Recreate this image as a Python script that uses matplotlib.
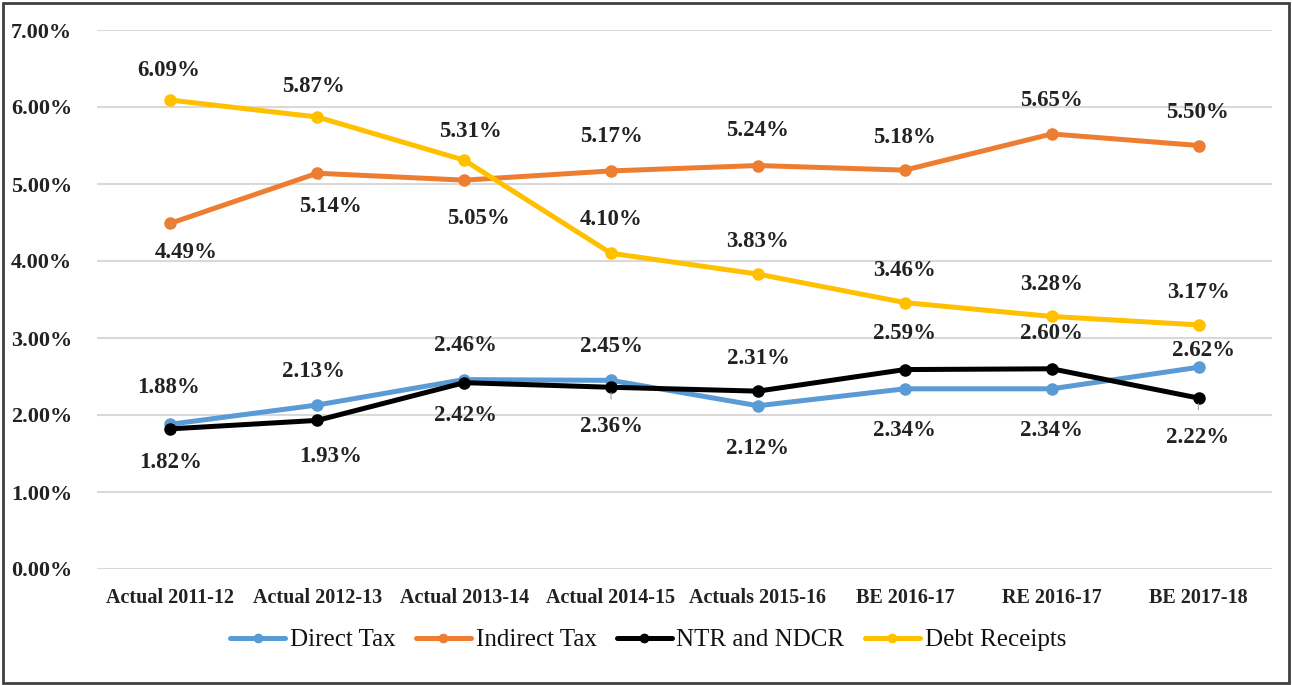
import matplotlib
matplotlib.use("Agg")
import matplotlib.pyplot as plt
from matplotlib.patches import Rectangle

categories = ["Actual 2011-12", "Actual 2012-13", "Actual 2013-14", "Actual 2014-15",
              "Actuals 2015-16", "BE 2016-17", "RE 2016-17", "BE 2017-18"]
direct_tax = [1.88, 2.13, 2.46, 2.45, 2.12, 2.34, 2.34, 2.62]
indirect_tax = [4.49, 5.14, 5.05, 5.17, 5.24, 5.18, 5.65, 5.50]
ntr_ndcr = [1.82, 1.93, 2.42, 2.36, 2.31, 2.59, 2.60, 2.22]
debt_receipts = [6.09, 5.87, 5.31, 4.10, 3.83, 3.46, 3.28, 3.17]
yticks = [0, 1, 2, 3, 4, 5, 6, 7]

# label offsets in pixels (dx, dy)
off_direct = [(-2, 37), (-4, 33), (1, 34), (0, 34), (0, -43), (0, -42), (0, -42), (5, 17)]
off_indirect = [(16, -29), (13, -33), (14, -38), (0, 34), (0, 35), (0, 33), (0, 33), (-1, 33)]
off_ntr = [(0, -34), (13, -36), (1, -33), (0, -39), (0, 33), (0, 36), (0, 35), (-1, -39)]
off_debt = [(-2, 30), (-4, 31), (6, 29), (0, 34), (0, 33), (0, 32), (0, 32), (0, 32)]
# which labels carry a thin leader line
lead_direct = [False, False, False, False, False, False, False, False]
lead_indirect = [True, True, False, False, False, False, True, False]
lead_ntr = [False, False, False, True, False, False, False, True]
lead_debt = [False, False, False, False, False, False, False, False]

colors = {"Direct Tax": "#5B9BD5", "Indirect Tax": "#ED7D31",
          "NTR and NDCR": "#000000", "Debt Receipts": "#FFC000"}

serif = ["Liberation Serif", "DejaVu Serif"]
plt.rcParams["font.family"] = serif

fig = plt.figure(figsize=(12.92, 6.85), dpi=100)
ax = fig.add_axes([97/1292, 1-569/685, (1272-97)/1292, (569-30)/685])

x = list(range(len(categories)))
series = [("Direct Tax", direct_tax, off_direct, lead_direct),
          ("Indirect Tax", indirect_tax, off_indirect, lead_indirect),
          ("NTR and NDCR", ntr_ndcr, off_ntr, lead_ntr),
          ("Debt Receipts", debt_receipts, off_debt, lead_debt)]

for name, vals, offs, leads in series:
    ax.plot(x, vals, color=colors[name], lw=3.6, marker="o", markersize=8,
            label=name, solid_capstyle="round", zorder=3)

for name, vals, offs, leads in series:
    for xi, v, (dx, dy), lead in zip(x, vals, offs, leads):
        ax.annotate(f"{v:.2f}%", xy=(xi, v), xytext=(dx, dy), textcoords="offset pixels",
                    ha="center", va="center", fontsize=16.5, fontweight="bold",
                    color="#222222", zorder=5,
                    arrowprops=dict(arrowstyle="-", color="#a0a0a0", lw=0.8,
                                    shrinkA=10, shrinkB=4) if lead else None)

ax.set_xlim(-0.5, len(categories) - 0.5)
ax.set_ylim(0, 7)
ax.set_yticks(yticks)
ax.set_yticklabels([f"{t:.2f}%" for t in yticks])
ax.set_xticks(x)
ax.set_xticklabels(categories)
ax.grid(axis="y", color="#d9d9d9", lw=1.5)
ax.set_axisbelow(True)
for s in ax.spines.values():
    s.set_visible(False)
ax.tick_params(axis="both", length=0)
ax.tick_params(axis="y", pad=18, labelsize=16, labelcolor="#222222")
ax.tick_params(axis="x", pad=14, labelsize=14.5, labelcolor="#222222")
for lbl in ax.get_yticklabels() + ax.get_xticklabels():
    lbl.set_fontweight("bold")

leg = fig.legend(loc="center", bbox_to_anchor=(648/1292, 1-640/685), ncol=4, frameon=False,
                 prop={"family": serif, "size": 18},
                 handlelength=2.2, columnspacing=0.8, handletextpad=0.2, markerscale=0.75)
for t in leg.get_texts():
    t.set_color("#111111")

fig.patches.append(Rectangle((3/1292, 2/685), 1286/1292, 680/685, transform=fig.transFigure,
                             fill=False, edgecolor="#404040", lw=2))

fig.savefig("out.png", dpi=100)
